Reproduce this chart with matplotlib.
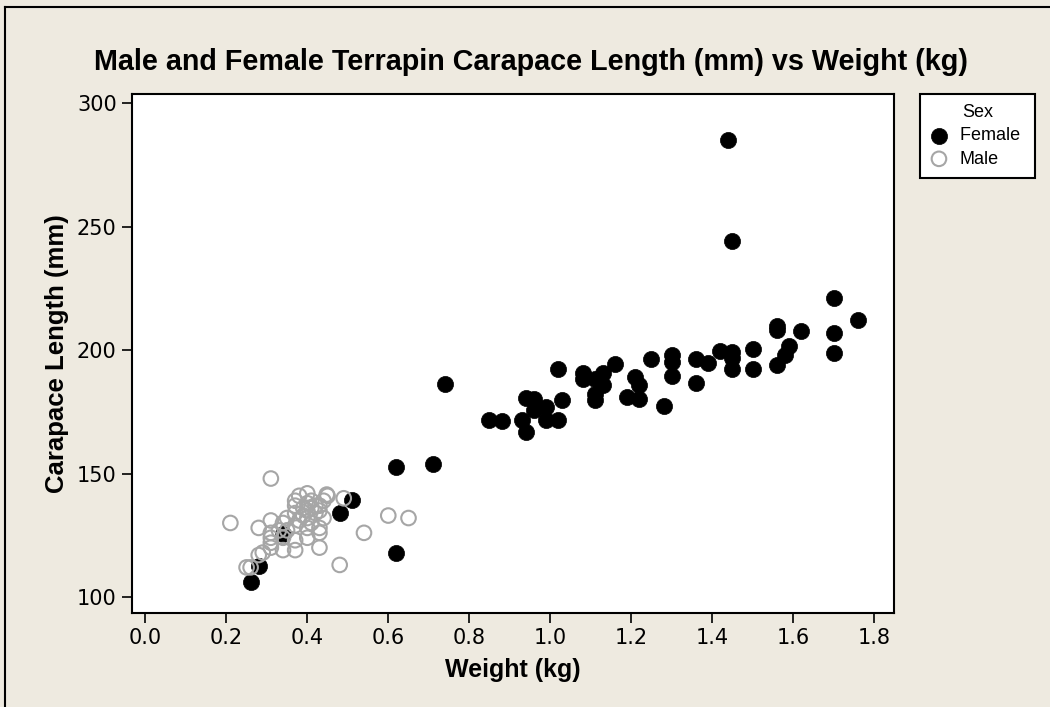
import matplotlib.pyplot as plt
from matplotlib.lines import Line2D

# Female terrapins: weight (kg) and carapace length (mm)
female_weight = [0.26, 0.28, 0.34, 0.48, 0.51, 0.62, 0.71, 0.62, 0.74, 0.85,
                 0.88, 0.93, 0.94, 0.94, 0.96, 0.96, 0.99, 0.99, 1.02, 1.03,
                 1.02, 1.08, 1.08, 1.11, 1.13, 1.13, 1.11, 1.11, 1.16, 1.19,
                 1.21, 1.22, 1.22, 1.25, 1.28, 1.30, 1.30, 1.30, 1.36, 1.36,
                 1.39, 1.42, 1.45, 1.45, 1.45, 1.50, 1.50, 1.56, 1.56, 1.56,
                 1.58, 1.59, 1.62, 1.70, 1.70, 1.70, 1.76, 1.44, 1.45]
female_length = [106, 112.5, 125.7, 134, 139.2, 152.7, 153.7, 117.8, 186.2, 171.9,
                 171.3, 171.6, 166.9, 180.8, 180.4, 175.7, 177, 171.6, 171.9, 179.7,
                 192.2, 190.6, 188.5, 188.5, 190.6, 185.8, 182.4, 179.7, 194.3, 181,
                 189.2, 185.8, 180.1, 196.6, 177.3, 197.9, 195.2, 189.5, 196.6, 186.9,
                 195, 199.6, 199.1, 197, 192.2, 200.3, 192.2, 209.7, 208.1, 194.2,
                 198, 201.7, 207.7, 221, 207, 198.7, 212.2, 285.1, 244.1]

# Male terrapins
male_weight = [0.21, 0.25, 0.26, 0.28, 0.29, 0.28, 0.31, 0.31, 0.31, 0.31,
               0.31, 0.31, 0.34, 0.34, 0.34, 0.37, 0.37, 0.37, 0.37, 0.37,
               0.37, 0.38, 0.38, 0.39, 0.39, 0.40, 0.40, 0.40, 0.40, 0.40,
               0.40, 0.41, 0.41, 0.41, 0.42, 0.42, 0.43, 0.43, 0.43, 0.43,
               0.43, 0.44, 0.45, 0.448, 0.44, 0.35, 0.35, 0.33, 0.49, 0.54,
               0.60, 0.65, 0.48]
male_length = [130, 112, 112, 117, 118, 128, 148, 131, 126, 124,
               122, 120, 130, 119, 124, 139, 137, 134, 129, 123,
               119, 141, 131, 136, 133, 142, 138, 135, 132, 128,
               124, 139, 136, 130, 137, 134, 137, 135, 128, 126,
               120, 139, 141, 141.5, 132, 132, 127, 127, 140, 126,
               133, 132, 113]

bg = "#EEEAE0"
fig = plt.figure(figsize=(10.5, 7.07), dpi=100, facecolor=bg)
ax = fig.add_axes([0.1257, 0.1329, 0.7257, 0.7341])
ax.set_facecolor("white")

ax.scatter(female_weight, female_length, s=135, c="black", edgecolors="black",
           linewidths=0.5, label="Female ", zorder=2)
ax.scatter(male_weight, male_length, s=110, facecolors="none", edgecolors="#A6A6A6",
           linewidths=1.5, label="Male", zorder=3)

ax.set_xlim(-0.033, 1.849)
ax.set_ylim(93.5, 303.8)
ax.set_xticks([0.0, 0.2, 0.4, 0.6, 0.8, 1.0, 1.2, 1.4, 1.6, 1.8])
ax.set_yticks([100, 150, 200, 250, 300])
ax.set_xticklabels(["0.0", "0.2", "0.4", "0.6", "0.8", "1.0", "1.2", "1.4", "1.6", "1.8"])
ax.tick_params(direction="out", length=7, width=1.2, labelsize=15, pad=4)
for sp in ax.spines.values():
    sp.set_linewidth(1.5)

ax.set_xlabel("Weight (kg)", fontsize=18, fontweight="bold", family="Liberation Sans", labelpad=7)
ax.set_ylabel("Carapace Length (mm)", fontsize=18.5, fontweight="bold", family="Liberation Sans", labelpad=6)
fig.text(0.506, 0.913, "Male and Female Terrapin Carapace Length (mm) vs Weight (kg)",
         ha="center", va="center", fontsize=20.7, fontweight="bold", family="Liberation Sans")

leg = ax.legend(title="Sex", loc="upper left", bbox_to_anchor=(920 / 1050, 1 - 94 / 707),
                bbox_transform=fig.transFigure, borderaxespad=0, frameon=True, fancybox=False,
                edgecolor="black", facecolor="white", framealpha=1,
                prop={"family": "Liberation Sans", "size": 13},
                title_fontproperties={"family": "Liberation Sans", "size": 13},
                alignment="center", handletextpad=0.65, borderpad=0.55, labelspacing=0.35,
                handlelength=1.0, markerscale=1.0)
leg.get_frame().set_linewidth(1.5)

# outer frame lines (left and top only visible)
fig.add_artist(Line2D([5 / 1050, 5 / 1050], [0, 1 - 7 / 707], transform=fig.transFigure, color="black", lw=1.5))
fig.add_artist(Line2D([5 / 1050, 1], [1 - 7 / 707, 1 - 7 / 707], transform=fig.transFigure, color="black", lw=1.5))

fig.savefig("out.png", dpi=100, facecolor=bg)
